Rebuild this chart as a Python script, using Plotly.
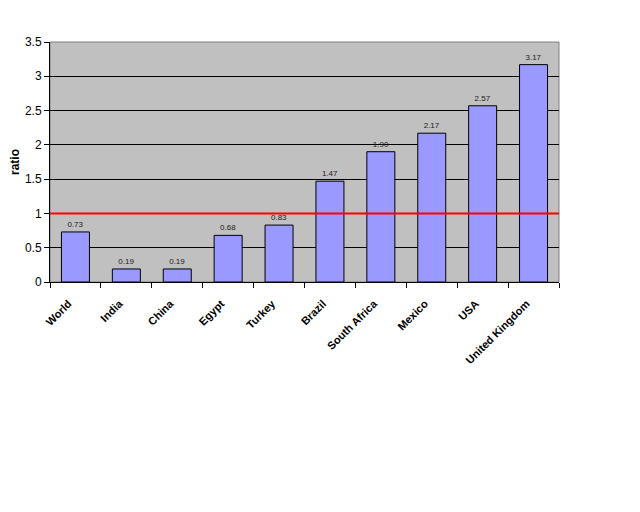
import plotly.graph_objects as go

# data
countries = ['World', 'India', 'China', 'Egypt', 'Turkey', 'Brazil',
             'South Africa', 'Mexico', 'USA', 'United Kingdom']
ratio = [0.73, 0.19, 0.19, 0.68, 0.83, 1.47, 1.90, 2.17, 2.57, 3.17]
ratio_labels = ['0.73', '0.19', '0.19', '0.68', '0.83', '1.47', '1.90', '2.17', '2.57', '3.17']
ref_level = 1

fig = go.Figure()
fig.add_bar(x=countries, y=ratio, text=ratio_labels, textposition='outside',
            textfont=dict(size=8, color='#202020', family='Liberation Sans'),
            marker=dict(color='#9999FF', line=dict(color='black', width=1)),
            cliponaxis=False, showlegend=False)

# red reference line across the plot
fig.add_hline(y=ref_level, line=dict(color='#FF0000', width=2))

# page has an 8px body margin, so margins are shifted to keep the plot box in place
fig.update_layout(
    width=640, height=512,
    margin=dict(l=42, r=89, t=34, b=238),
    paper_bgcolor='white',
    plot_bgcolor='#C0C0C0',
    bargap=0.45,
    font=dict(family='Liberation Sans', color='black'),
)

fig.update_xaxes(
    tickangle=-45, tickfont=dict(size=11, weight='bold'),
    ticklabelshift=-7, ticklabelstandoff=10,
    tickson='boundaries', ticks='outside', ticklen=5, tickcolor='black',
    showline=True, linecolor='black', linewidth=1,
    showgrid=False, mirror=False, automargin=False,
)
fig.update_yaxes(
    range=[0, 3.5], dtick=0.5,
    title=dict(text='<b>ratio</b>', font=dict(size=12)),
    tickfont=dict(size=12),
    ticks='outside', ticklen=5, tickcolor='black',
    showline=True, linecolor='black', linewidth=1,
    gridcolor='black', gridwidth=1, zeroline=False, automargin=False,
)

# gray border on top and right of the plot area
fig.add_shape(type='rect', xref='paper', yref='paper', x0=0, x1=1, y0=0, y1=1,
              line=dict(color='#808080', width=1), layer='below')

fig.write_html('out.html')
